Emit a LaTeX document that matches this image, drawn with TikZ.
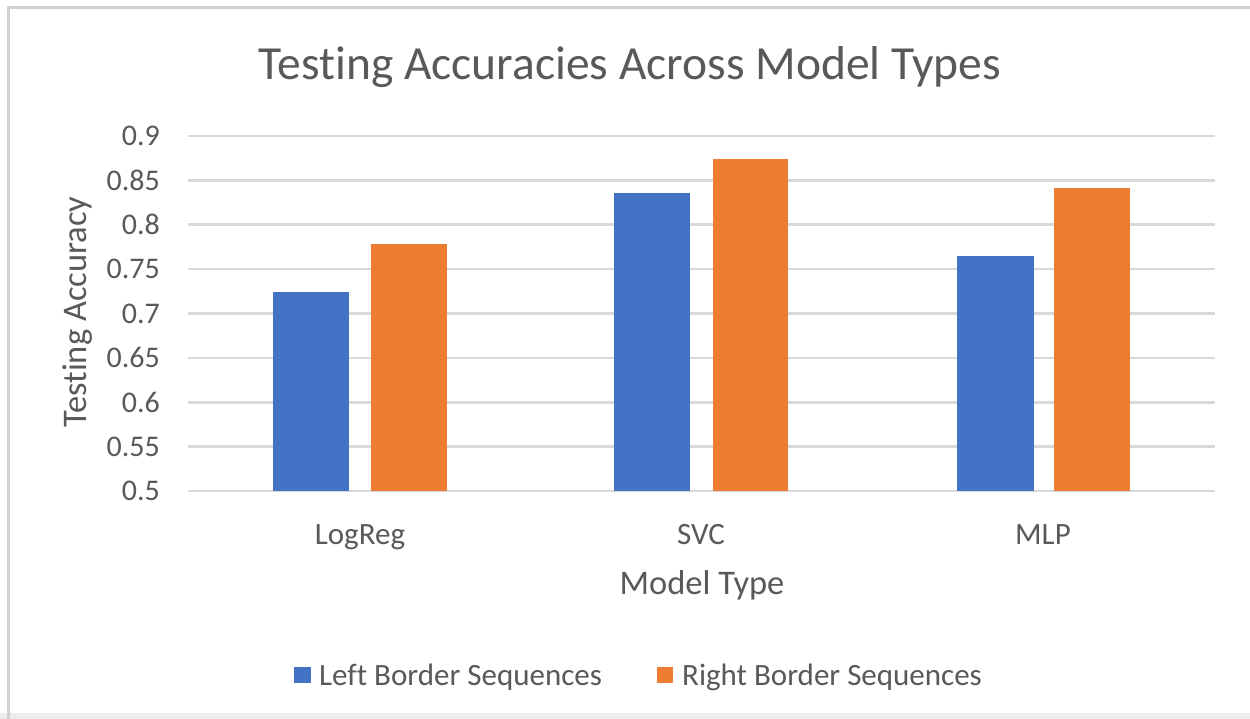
\documentclass[tikz,border=0pt]{standalone}
\usepackage{fontspec}
\setmainfont{Carlito}[Ligatures=NoCommon]
\definecolor{barblue}{HTML}{4472C4}
\definecolor{barorange}{HTML}{ED7D31}
\definecolor{txt}{HTML}{595959}
\definecolor{gridc}{HTML}{D9D9D9}
\definecolor{framec}{HTML}{D0D0D0}
\begin{document}
\begin{tikzpicture}[x=1pt,y=-1pt,
  ticklab/.style={anchor=east, text=txt, font=\fontsize{30}{36}\selectfont, inner sep=0pt},
  catlab/.style={text=txt, font=\fontsize{31}{37}\selectfont, inner sep=0pt},
  axtitle/.style={text=txt, font=\fontsize{34.5}{40}\selectfont, inner sep=0pt},
  legtext/.style={anchor=west, text=txt, font=\fontsize{31}{37}\selectfont, inner sep=0pt},
  gridline/.style={draw=gridc, line width=2.5pt},
  bluebar/.style={fill=barblue, draw=none},
  orangebar/.style={fill=barorange, draw=none}]
\useasboundingbox (0,0) rectangle (1250,719);
\fill[white] (0,0) rectangle (1250,719);
\fill[framec!40] (0,713) rectangle (1250,719);
\draw[framec, line width=3pt] (8,719) -- (8,8) -- (1250,8);
% title
\node[text=txt, font=\fontsize{47.5}{56}\selectfont, inner sep=0pt] (title) at (630,67) {Testing Accuracies Across Model Types};
% grid and ticks
\foreach \i/\lab in {0/0.5,1/0.55,2/0.6,3/0.65,4/0.7,5/0.75,6/0.8,7/0.85,8/0.9}{
  \draw[gridline] (188,{491-\i*44.375}) -- (1215,{491-\i*44.375});
  \node[ticklab] (tick\i) at (160,{491-\i*44.375}) {\lab};
}
% bars
\fill[bluebar] (273,292) rectangle (349,491);
\fill[orangebar] (371,244) rectangle (447,491);
\fill[bluebar] (614,193) rectangle (690,491);
\fill[orangebar] (713,159) rectangle (788,491);
\fill[bluebar] (957,256) rectangle (1034,491);
\fill[orangebar] (1054,188) rectangle (1130,491);
% category labels
\node[catlab, anchor=base] (logreg) at (360,544) {LogReg};
\node[catlab, anchor=base] (svc) at (701,544) {SVC};
\node[catlab, anchor=base] (mlp) at (1043,544) {MLP};
% axis titles
\node[axtitle, anchor=base] (xtitle) at (702,594) {Model Type};
\node[axtitle, rotate=90, anchor=base] (ytitle) at (86,312) {Testing Accuracy};
% legend
\fill[barblue] (294,667) rectangle (311,683);
\node[legtext, anchor=base west] (leg1) at (319,685) {Left Border Sequences};
\fill[barorange] (657,667) rectangle (673,683);
\node[legtext, anchor=base west] (leg2) at (682,685) {Right Border Sequences};
\end{tikzpicture}
\end{document}
